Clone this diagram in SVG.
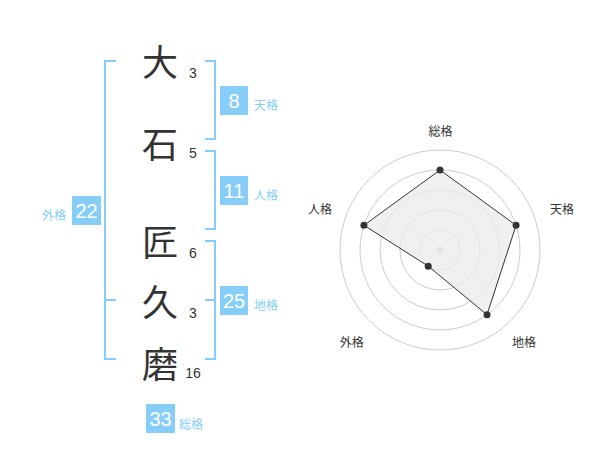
<svg xmlns="http://www.w3.org/2000/svg" width="600" height="470" viewBox="0 0 600 470">
<style>
.ch{font-family:"Noto Sans CJK JP","Noto Sans CJK SC",sans-serif;font-size:36px;fill:#333;text-anchor:middle;dominant-baseline:central}
.st{font-family:"Liberation Sans",Arial,sans-serif;font-size:14px;fill:#333;text-anchor:middle}
.box{fill:#86cdf7}
.bn{font-family:"Liberation Sans",Arial,sans-serif;font-size:20px;fill:#fff;text-anchor:middle;dominant-baseline:central}
.lb{font-family:"Noto Sans CJK JP","Noto Sans CJK SC",sans-serif;font-size:12px;fill:#86cdf7;dominant-baseline:central}
.br{fill:none;stroke:#86cdf7;stroke-width:2}
.ring{fill:none;stroke:#ccc;stroke-width:1}
.rl{font-family:"Noto Sans CJK JP","Noto Sans CJK SC",sans-serif;font-size:12px;fill:#333;text-anchor:middle;dominant-baseline:central}
.pt{fill:#333}
</style>
<g id="names">
<g id="c1"><text class="ch" x="160" y="60">大</text><text class="st" x="193" y="78">3</text></g>
<g id="c2"><text class="ch" x="160" y="141.5">石</text><text class="st" x="193" y="158">5</text></g>
<g id="c3"><text class="ch" x="160" y="240">匠</text><text class="st" x="193" y="258">6</text></g>
<g id="c4"><text class="ch" x="160" y="300">久</text><text class="st" x="193" y="318">3</text></g>
<g id="c5"><text class="ch" x="160" y="362">磨</text><text class="st" x="193" y="378">16</text></g>
</g>
<g id="connectors">
<path class="br" d="M205,61 H215 V139 H205"/>
<path class="br" d="M205,151 H215 V229 H205"/>
<path class="br" d="M205,241 H215 V359 H205 M205,300 H215"/>
<path class="br" d="M116,61 H105 V359 H116 M105,300 H116"/>
</g>
<g id="tenkaku"><rect class="box" x="220" y="86" width="28" height="29"/><text class="bn" x="234" y="100.5">8</text><text class="lb" x="254" y="104">天格</text></g>
<g id="jinkaku"><rect class="box" x="220" y="176" width="28" height="29"/><text class="bn" x="234" y="190.5">11</text><text class="lb" x="254" y="194">人格</text></g>
<g id="chikaku"><rect class="box" x="220" y="286" width="28" height="29"/><text class="bn" x="234" y="300.5">25</text><text class="lb" x="254" y="304">地格</text></g>
<g id="gaikaku"><rect class="box" x="72" y="196" width="29" height="29"/><text class="bn" x="86.5" y="210.5">22</text><text class="lb" x="66" y="214" text-anchor="end">外格</text></g>
<g id="soukaku"><rect class="box" x="146" y="404" width="29" height="29"/><text class="bn" x="160.5" y="418.5">33</text><text class="lb" x="179" y="423">総格</text></g>
<g id="radar">
<circle class="ring" cx="440" cy="250" r="100"/>
<circle class="ring" cx="440" cy="250" r="80"/>
<circle class="ring" cx="440" cy="250" r="60"/>
<circle class="ring" cx="440" cy="250" r="40"/>
<circle class="ring" cx="440" cy="250" r="20"/>
<circle cx="440" cy="250" r="3.5" fill="#ccc"/>
<polygon points="440,170 516.08,225.28 487.02,314.72 428.24,266.18 363.92,225.28" fill="#ebebeb" fill-opacity="0.75" stroke="#333" stroke-width="1"/>
<circle class="pt" cx="440" cy="170" r="3.5"/>
<circle class="pt" cx="516.08" cy="225.28" r="3.5"/>
<circle class="pt" cx="487.02" cy="314.72" r="3.5"/>
<circle class="pt" cx="428.24" cy="266.18" r="3.5"/>
<circle class="pt" cx="363.92" cy="225.28" r="3.5"/>
<text class="rl" x="440.5" y="130.5">総格</text>
<text class="rl" x="562" y="208.5">天格</text>
<text class="rl" x="524" y="341.5">地格</text>
<text class="rl" x="351.7" y="341.5">外格</text>
<text class="rl" x="320" y="208.5">人格</text>
</g>
</svg>
